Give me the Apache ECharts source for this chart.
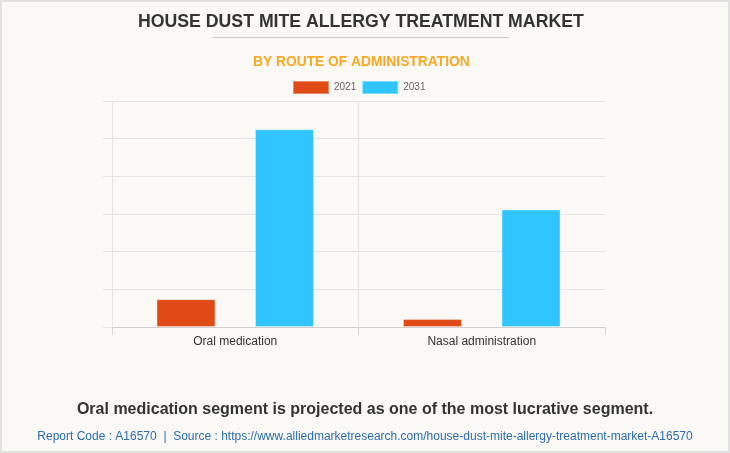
<!DOCTYPE html>
<html>
<head>
<meta charset="utf-8">
<script src="https://cdn.jsdelivr.net/npm/echarts@6/dist/echarts.min.js"></script>
<style>
html,body{margin:0;padding:0;background:#FAF9F5;}
#chart{width:730px;height:453px;}
</style>
</head>
<body>
<div id="chart"></div>
<script>
const categories = ['Oral medication', 'Nasal administration'];
const seriesNames = ['2021', '2031'];
const values2021 = [0.74, 0.21];
const values2031 = [5.25, 3.12];
const titleText = 'HOUSE DUST MITE ALLERGY TREATMENT MARKET';
const subtitleText = 'BY ROUTE OF ADMINISTRATION';
const footerText = 'Oral medication segment is projected as one of the most lucrative segment.';
const sourceText = 'Report Code : A16570  |  Source : https://www.alliedmarketresearch.com/house-dust-mite-allergy-treatment-market-A16570';

const chart = echarts.init(document.getElementById('chart'));
const gridColor = '#e4e4e4';
chart.setOption({
  backgroundColor: '#FAF9F5',
  animation: false,
  title: [
    {text: titleText, left: 133, top: 8,
     textStyle: {fontFamily: 'Liberation Sans, Arial', fontWeight: 'bold', fontSize: 17.7, color: '#333333'}},
    {text: subtitleText, left: 248, top: 50,
     textStyle: {fontFamily: 'Liberation Sans, Arial', fontWeight: 'bold', fontSize: 13.8, color: '#F9A825'}},
    {text: footerText, left: 'center', top: 397,
     textStyle: {fontFamily: 'Liberation Sans, Arial', fontWeight: 'bold', fontSize: 16, color: '#333333'}},
    {text: sourceText, left: 'center', top: 426,
     textStyle: {fontFamily: 'Liberation Sans, Arial', fontWeight: 'normal', fontSize: 12, color: '#2B6CB8'}}
  ],
  graphic: [
    {type: 'rect', shape: {x: 1, y: 1, width: 728, height: 451}, style: {fill: 'none', stroke: '#e2e2e2', lineWidth: 2}, silent: true},
    {type: 'line', shape: {x1: 213, y1: 37.5, x2: 509, y2: 37.5}, style: {stroke: '#cccccc', lineWidth: 1}, silent: true}
  ],
  legend: {
    top: 75, left: 287,
    itemWidth: 36, itemHeight: 13, itemGap: 5,
    icon: 'rect',
    textStyle: {fontFamily: 'Liberation Sans, Arial', fontSize: 10, color: '#666666'},
    data: seriesNames
  },
  grid: {left: 112, right: 125, top: 101, bottom: 126, containLabel: false},
  xAxis: {
    type: 'category',
    data: categories,
    axisLine: {show: true, lineStyle: {color: '#d0d0d0'}},
    axisTick: {show: true, length: 8, lineStyle: {color: '#d8d8d8'}},
    splitLine: {show: true, showMaxLine: false, lineStyle: {color: gridColor}},
    axisLabel: {fontFamily: 'Liberation Sans, Arial', fontSize: 12, color: '#333333', margin: 9}
  },
  yAxis: {
    type: 'value', min: 0, max: 6, interval: 1,
    axisLine: {show: false},
    axisTick: {show: true, length: 9, lineStyle: {color: gridColor}},
    axisLabel: {show: false},
    splitLine: {show: true, lineStyle: {color: gridColor}}
  },
  series: [
    {name: seriesNames[0], type: 'bar', data: values2021, barWidth: 59, barGap: '67%',
     itemStyle: {color: '#E04A16', borderColor: 'rgba(255,255,255,0.35)', borderWidth: 1}},
    {name: seriesNames[1], type: 'bar', data: values2031, barWidth: 59,
     itemStyle: {color: '#30C5FE', borderColor: 'rgba(255,255,255,0.35)', borderWidth: 1}}
  ]
});
</script>
</body>
</html>
